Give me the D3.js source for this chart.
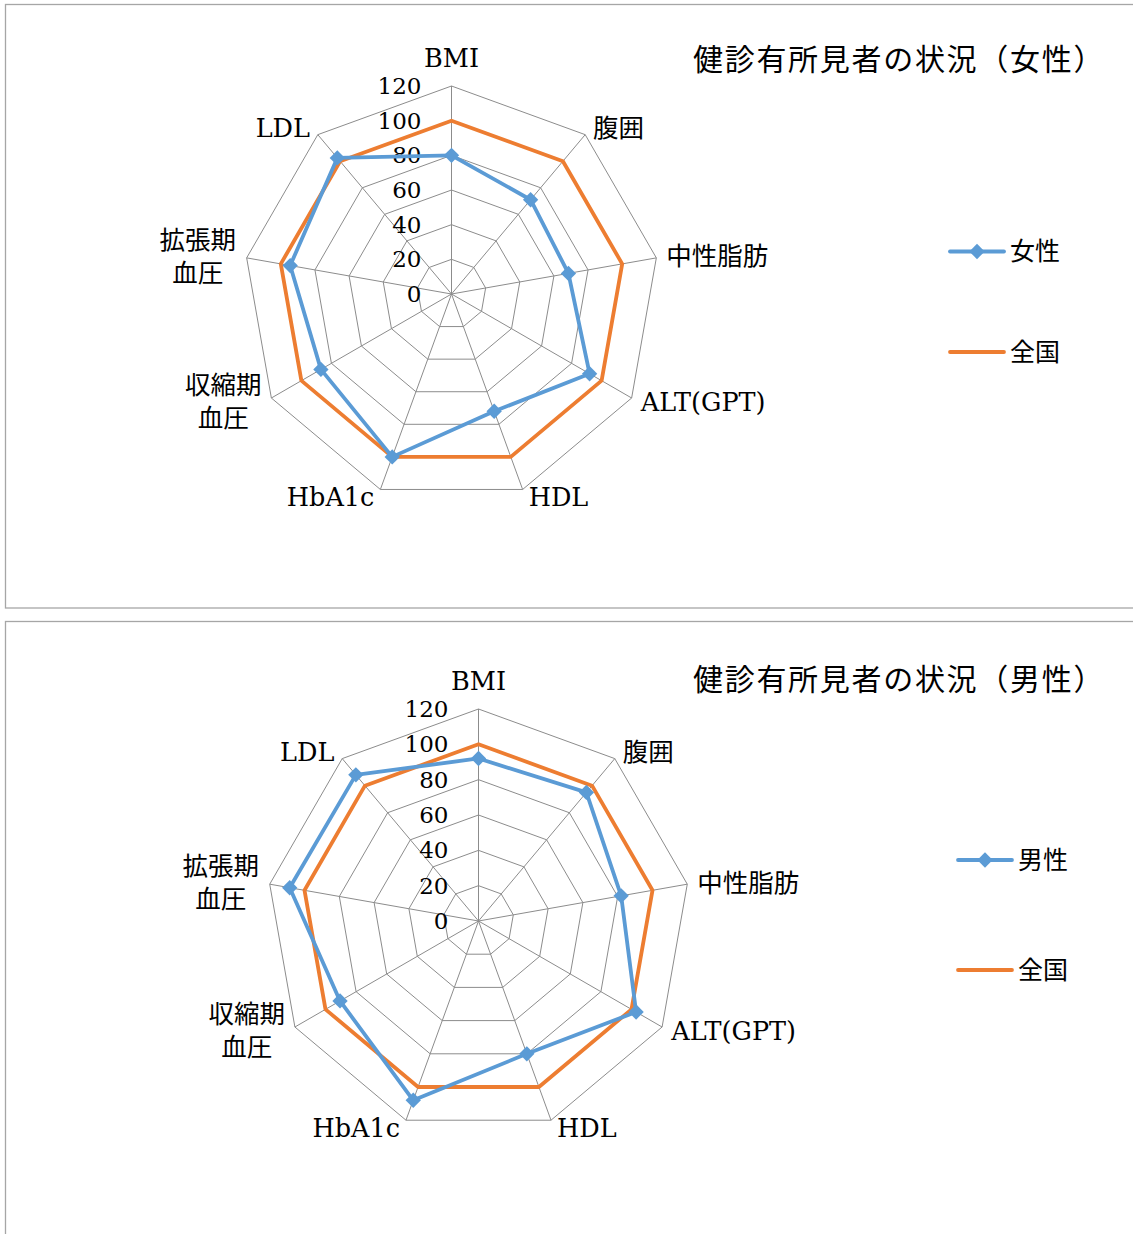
<!DOCTYPE html>
<html><head><meta charset="utf-8">
<script src="https://cdn.jsdelivr.net/npm/d3@7"></script>
<style>
body{margin:0;background:#fff;}
svg{display:block;}
</style>
</head><body>
<svg id="c" width="1133" height="1234"></svg>
<script>
const categories = ["BMI","腹囲","中性脂肪","ALT(GPT)","HDL","HbA1c","収縮期\n血圧","拡張期\n血圧","LDL"];
const femaleValues = [80, 71, 68.5, 92, 72, 100, 87, 94.5, 102.5];
const maleValues = [92, 95, 82, 103, 80, 108, 90.5, 108.5, 108];
const nationalValues = [100, 100, 100, 100, 100, 100, 100, 100, 100];
const tickValues = [0, 20, 40, 60, 80, 100, 120];
const titles = ["健診有所見者の状況（女性）", "健診有所見者の状況（男性）"];
const seriesNames = ["女性", "男性"];
const nationalName = "全国";

const BLUE = "#5B9BD5", ORANGE = "#ED7D31", GRID = "#8c8c8c";
const SERIF = "'DejaVu Serif', 'Noto Sans CJK JP', serif";
const CJK = "'Noto Sans CJK JP', sans-serif";

const svg = d3.select("#c");

const layouts = [
  {box:{x:5.5, y:4.5, h:603.5}, cx:451.5, cy:294, R:208, titleX:693, titleY:70,
   legX:950, legY1:251.5, legY2:352, values:femaleValues},
  {box:{x:5.5, y:621.5, h:700}, cx:478.5, cy:921, R:212, titleX:693, titleY:690,
   legX:958, legY1:860, legY2:970, values:maleValues}
];

layouts.forEach((L, ci) => {
  svg.append("rect").attr("x", L.box.x).attr("y", L.box.y)
    .attr("width", 1200).attr("height", L.box.h)
    .attr("fill", "none").attr("stroke", "#a6a6a6").attr("stroke-width", 1.3);

  const g = svg.append("g").attr("transform", `translate(${L.cx},${L.cy})`);
  const n = categories.length;
  const angle = d3.scalePoint().domain(d3.range(n + 1)).range([0, 2 * Math.PI]);
  const r = d3.scaleLinear().domain([0, 120]).range([0, L.R]);
  const pt = (i, v) => [Math.sin(angle(i)) * r(v), -Math.cos(angle(i)) * r(v)];

  // rings
  tickValues.filter(t => t > 0).forEach(t => {
    g.append("path")
      .attr("d", d3.line()(d3.range(n).map(i => pt(i, t))) + "Z")
      .attr("fill", "none").attr("stroke", GRID).attr("stroke-width", 1);
  });
  // spokes
  d3.range(n).forEach(i => {
    const p = pt(i, 120);
    g.append("line").attr("x1", 0).attr("y1", 0).attr("x2", p[0]).attr("y2", p[1])
      .attr("stroke", GRID).attr("stroke-width", 1);
  });

  // tick labels
  g.selectAll("text.tick").data(tickValues).join("text")
    .attr("class", "tick")
    .attr("x", -30).attr("y", d => -r(d))
    .attr("dy", "0.35em")
    .attr("text-anchor", "end")
    .attr("font-family", SERIF).attr("font-size", 23).attr("fill", "#000")
    .text(d => d);

  // category labels
  categories.forEach((c, i) => {
    const a = angle(i);
    const s = Math.sin(a), co = Math.cos(a);
    const v = pt(i, 120);
    const lines = c.split("\n");
    const lh = 33;
    const blockH = lines.length * lh;
    let x, anchor, cyc;
    if (Math.abs(s) < 0.1) {
      anchor = "middle"; x = v[0];
      cyc = v[1] - 28;
    } else {
      const gap = 4 + 6 * Math.abs(s);
      anchor = s > 0 ? "start" : "end";
      x = v[0] + (s > 0 ? gap : -gap);
      cyc = v[1] - co * 8;
    }
    const t = g.append("text")
      .attr("font-family", SERIF).attr("font-size", 25.5).attr("fill", "#000");
    if (lines.length === 1) {
      t.attr("x", x).attr("y", cyc).attr("dy", "0.35em").attr("text-anchor", anchor).text(c);
    } else {
      const bw = 78;
      const mid = anchor === "end" ? x - bw / 2 : (anchor === "start" ? x + bw / 2 : x);
      lines.forEach((ln, k) => {
        t.append("tspan").attr("x", mid).attr("text-anchor", "middle")
          .attr("y", cyc - blockH / 2 + lh * k + lh / 2).attr("dy", "0.35em").text(ln);
      });
    }
  });

  // series
  const drawSeries = (vals, color, markers) => {
    const pts = vals.map((v, i) => pt(i, v));
    g.append("path").attr("d", d3.line()(pts) + "Z")
      .attr("fill", "none").attr("stroke", color).attr("stroke-width", 3.8)
      .attr("stroke-linejoin", "round");
    if (markers) {
      g.selectAll(null).data(pts).join("path")
        .attr("transform", d => `translate(${d[0]},${d[1]})`)
        .attr("d", d3.symbol(d3.symbolDiamond2, 150)())
        .attr("fill", color);
    }
  };
  drawSeries(nationalValues, ORANGE, false);
  drawSeries(L.values, BLUE, true);

  // title
  svg.append("text").attr("x", L.titleX).attr("y", L.titleY)
    .attr("font-family", CJK).attr("font-size", 30).attr("letter-spacing", 1.7).attr("fill", "#000")
    .text(titles[ci]);

  // legend
  const lg = svg.append("g");
  lg.append("line").attr("x1", L.legX).attr("x2", L.legX + 54)
    .attr("y1", L.legY1).attr("y2", L.legY1)
    .attr("stroke", BLUE).attr("stroke-width", 3.8).attr("stroke-linecap", "round");
  lg.append("path").attr("transform", `translate(${L.legX + 27},${L.legY1})`)
    .attr("d", d3.symbol(d3.symbolDiamond2, 150)()).attr("fill", BLUE);
  lg.append("text").attr("x", L.legX + 60).attr("y", L.legY1).attr("dy", "0.35em")
    .attr("font-family", CJK).attr("font-size", 25).attr("fill", "#000").text(seriesNames[ci]);
  lg.append("line").attr("x1", L.legX).attr("x2", L.legX + 54)
    .attr("y1", L.legY2).attr("y2", L.legY2)
    .attr("stroke", ORANGE).attr("stroke-width", 3.8).attr("stroke-linecap", "round");
  lg.append("text").attr("x", L.legX + 60).attr("y", L.legY2).attr("dy", "0.35em")
    .attr("font-family", CJK).attr("font-size", 25).attr("fill", "#000").text(nationalName);
});
</script>
</body></html>
